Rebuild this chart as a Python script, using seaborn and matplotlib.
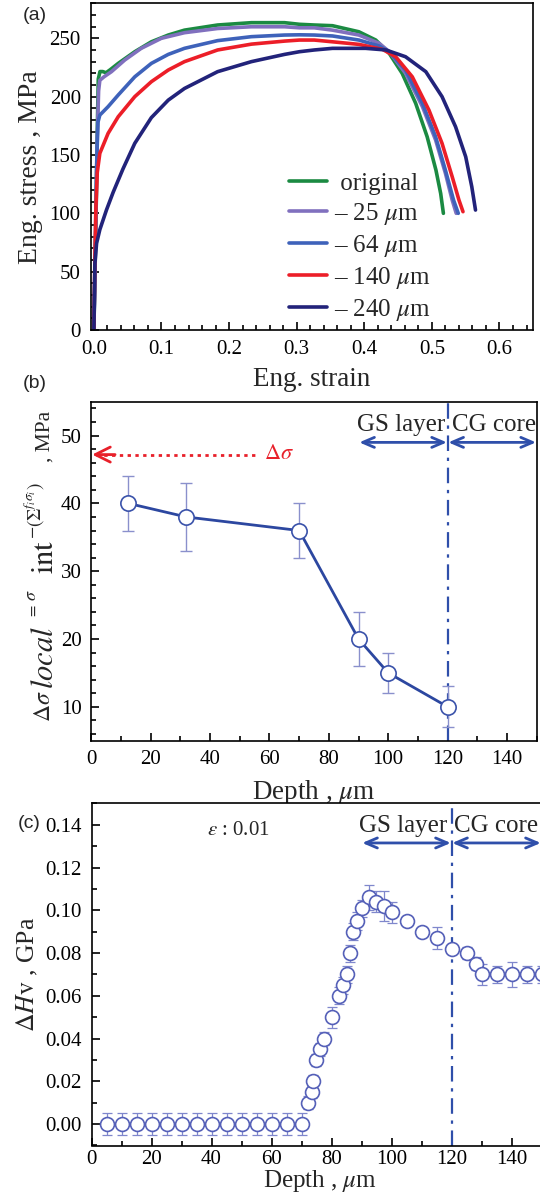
import matplotlib
matplotlib.use("Agg")
import matplotlib.pyplot as plt
import numpy as np
import pandas as pd
import seaborn as sns
from matplotlib.ticker import MultipleLocator, FixedLocator, FormatStrFormatter

# ---------------- (a) engineering stress-strain curves ----------------
strain_original = [0.0, 0.003, 0.005, 0.0065, 0.009, 0.013, 0.018, 0.024, 0.036, 0.0605, 0.085,
                   0.11, 0.134, 0.183, 0.233, 0.282, 0.304, 0.326, 0.353, 0.392, 0.417, 0.437,
                   0.456, 0.476, 0.493, 0.506, 0.513, 0.517]
stress_original = [0, 90, 170, 215, 221.5, 221.5, 220.5, 223, 228.5, 238.5, 247,
                   252.8, 257, 261.4, 263.4, 263.4, 262, 261.4, 260.8, 255.6, 248.5, 237,
                   220, 194.3, 165.6, 137, 117, 100]

strain_25 = [0.0, 0.003, 0.005, 0.007, 0.0088, 0.015, 0.026, 0.0457, 0.070, 0.0998, 0.134,
             0.183, 0.233, 0.282, 0.304, 0.326, 0.353, 0.392, 0.422, 0.437, 0.461, 0.486,
             0.5055, 0.520, 0.530, 0.536]
stress_25 = [0, 90, 165, 205, 214, 217, 221.4, 231.4, 241.4, 250, 254.8,
             258.4, 259.9, 259.9, 259, 259, 257, 252.8, 245.7, 238.5, 220, 191.4,
             162.8, 134.3, 111.4, 100]

strain_64 = [0.0, 0.002, 0.004, 0.006, 0.0088, 0.021, 0.036, 0.0605, 0.085, 0.11, 0.134,
             0.183, 0.233, 0.282, 0.304, 0.326, 0.353, 0.392, 0.422, 0.437, 0.461, 0.486,
             0.5055, 0.520, 0.532, 0.539]
stress_64 = [0, 70, 140, 178, 184.2, 191.4, 201.4, 217, 228.5, 236.2, 241.4,
             248, 251.4, 252.8, 253, 252.8, 252, 248.5, 243.4, 238.5, 222.8, 194.3,
             165.6, 137, 111.4, 100]

strain_140 = [0.0, 0.0015, 0.003, 0.005, 0.0088, 0.021, 0.036, 0.0605, 0.085, 0.11, 0.134,
              0.183, 0.233, 0.282, 0.304, 0.326, 0.353, 0.392, 0.427, 0.4465, 0.471, 0.4956,
              0.515, 0.530, 0.540, 0.546]
stress_140 = [0, 60, 105, 135, 151.4, 168.5, 182.8, 200, 212.8, 222.8, 230,
              240, 245, 247.6, 248.5, 248.5, 247, 244.8, 240.5, 234.2, 217, 188.5,
              160, 131.4, 111.4, 101.4]

strain_240 = [0.0, 0.0015, 0.004, 0.0088, 0.0187, 0.0285, 0.043, 0.0605, 0.085, 0.11, 0.134,
              0.183, 0.233, 0.282, 0.304, 0.326, 0.353, 0.402, 0.432, 0.461, 0.491, 0.515,
              0.535, 0.550, 0.559, 0.5645]
stress_240 = [0, 57, 74.3, 86, 103, 118, 138, 160, 182, 197, 207,
              221.4, 230, 236.2, 238.5, 240, 241.4, 241.4, 240, 234.2, 221.4, 200,
              174.2, 148.5, 122.8, 102.8]

sample_labels = [" original", "\u2013 25 $\\mu$m", "\u2013 64 $\\mu$m",
                 "\u2013 140 $\\mu$m", "\u2013 240 $\\mu$m"]
sample_colors = ["#1B8A42", "#8070BE", "#3E62BA", "#EC1E28", "#22237A"]

# ---------------- (b) local back stress vs depth ----------------
depth_b = [12.5, 32, 70, 90, 100, 120]
dsigma_local = [40, 38, 36, 20, 15, 10]
dsigma_err = [4, 5, 4, 4, 3, 3]
dsigma_total = 47.2

# ---------------- (c) hardness increment vs depth ----------------
depth_c = [5, 10, 15, 20, 25, 30, 35, 40, 45, 50, 55, 60, 65, 70,
           72.3, 73.4, 73.8, 74.9, 76, 77.5, 80, 82.5, 83.7, 85.2, 86.1, 87.2, 88.6, 90,
           92.4, 94.7, 97.6, 100, 105, 110, 115, 120, 125, 128, 130, 135, 140, 145, 150]
dhv = [0, 0, 0, 0, 0, 0, 0, 0, 0, 0, 0, 0, 0, 0,
       0.010, 0.015, 0.020, 0.030, 0.035, 0.040, 0.050, 0.060, 0.065, 0.070, 0.080, 0.090,
       0.095, 0.101, 0.106, 0.104, 0.102, 0.099, 0.095, 0.090, 0.087, 0.082, 0.080, 0.075,
       0.070, 0.070, 0.070, 0.070, 0.070]
dhv_err = [0.005] * 14 + [0.003, 0.003, 0.003, 0.003, 0.003, 0.003, 0.005, 0.004, 0.004,
                          0.004, 0.004, 0.004, 0.004, 0.004, 0.006, 0.005, 0.007, 0.005,
                          0.002, 0.002, 0.005, 0.002, 0.003, 0.003, 0.005, 0.004, 0.006,
                          0.004, 0.004]
depth_ticks_c = [0, 20, 40, 60, 80, 100, 120, 140]

# ---------------- style ----------------
sns.set_theme(style="ticks")
plt.rcParams["font.family"] = ["Liberation Serif", "DejaVu Serif"]
plt.rcParams["mathtext.fontset"] = "stix"
plt.rcParams["axes.linewidth"] = 1.2
plt.rcParams["axes.edgecolor"] = "black"

FIG_W, FIG_H = 540, 1193
fig = plt.figure(figsize=(FIG_W / 100, FIG_H / 100), dpi=100)


def box(l, t, r, b):
    return [l / FIG_W, 1 - b / FIG_H, (r - l) / FIG_W, (b - t) / FIG_H]


ax_a = fig.add_axes(box(90.5, 3.3, 533.3, 330))
ax_b = fig.add_axes(box(91.3, 401.7, 536.7, 740.7))
ax_c = fig.add_axes(box(91.5, 803.4, 91.5 + 480, 1145.5))

arrow_blue = "#2F4FAA"
LABEL_SIZE = 19.5


def style_axis(ax, xmaj, xmin, ymaj, ymin):
    ax.xaxis.set_major_locator(MultipleLocator(xmaj))
    ax.xaxis.set_minor_locator(MultipleLocator(xmin))
    ax.yaxis.set_major_locator(MultipleLocator(ymaj))
    ax.yaxis.set_minor_locator(MultipleLocator(ymin))
    ax.tick_params(which="both", direction="in", top=False, right=False,
                   width=1.2, colors="black", labelsize=15)
    ax.tick_params(which="major", length=6, pad=7)
    ax.tick_params(which="minor", length=3.5)
    for s in ax.spines.values():
        s.set_visible(True)
        s.set_color("black")
        s.set_linewidth(1.2)


# ---- (a) ----
frames = []
for lab, sx, sy in zip(sample_labels,
                       [strain_original, strain_25, strain_64, strain_140, strain_240],
                       [stress_original, stress_25, stress_64, stress_140, stress_240]):
    frames.append(pd.DataFrame({"strain": sx, "stress": sy, "sample": lab}))
df_a = pd.concat(frames, ignore_index=True)

sns.lineplot(data=df_a, x="strain", y="stress", hue="sample", hue_order=sample_labels,
             palette=sample_colors, sort=False, estimator=None, linewidth=2.6, ax=ax_a)
ax_a.set_xlim(-0.005, 0.65)
ax_a.set_ylim(0, 280)
style_axis(ax_a, 0.1, 0.02, 50, 10)
ax_a.set_xlabel("Eng. strain", fontsize=LABEL_SIZE, labelpad=6)
ax_a.set_ylabel("Eng. stress , MPa", fontsize=20, labelpad=5)
ax_a.legend(loc="upper left", bbox_to_anchor=(0.448, 0.482), frameon=False, fontsize=18,
            handlelength=1.52, handletextpad=0.3, labelspacing=0.24, borderpad=0,
            borderaxespad=0)

# ---- (b) ----
ax_b.errorbar(depth_b, dsigma_local, yerr=dsigma_err, fmt="none", ecolor="#8A90CC",
              elinewidth=1.0, capsize=4, capthick=1.0, zorder=2)
sns.lineplot(x=depth_b, y=dsigma_local, color="#2C47A0", linewidth=2.0, marker="o",
             markersize=11, markerfacecolor="white", markeredgecolor="#3A52AA",
             markeredgewidth=1.2, ax=ax_b, zorder=3)
ax_b.axvline(120, color=arrow_blue, linewidth=1.6, linestyle=(0, (7, 3, 1.5, 3)), zorder=1)
ax_b.plot([1.5, 55], [dsigma_total, dsigma_total], color="#E8202A", linestyle=(0, (1.2, 1.6)),
          linewidth=2.0)
ax_b.annotate("", xy=(0.3, dsigma_total), xytext=(8, dsigma_total),
              arrowprops=dict(arrowstyle="->,head_length=0.9,head_width=0.45",
                              color="#E8202A", lw=2.0, shrinkA=0, shrinkB=0))
ax_b.text(58, dsigma_total, r"$\Delta\sigma$", color="#E8202A", fontsize=16,
          ha="left", va="center")
for x0, x1 in [(90, 120), (120, 150)]:
    ax_b.annotate("", xy=(x0, 49.0), xytext=(x1, 49.0),
                  arrowprops=dict(arrowstyle="<->,head_length=0.7,head_width=0.3",
                                  color=arrow_blue, lw=2.0, shrinkA=0.5, shrinkB=0.5))
ax_b.text(104.5, 51.6, "GS layer", fontsize=18, ha="center", va="center")
ax_b.text(135.5, 51.6, "CG core", fontsize=18, ha="center", va="center")
ax_b.set_xlim(0, 150)
ax_b.set_ylim(5, 55)
style_axis(ax_b, 20, 10, 10, 2)
ax_b.set_xlabel(r"Depth , $\mu$m", fontsize=LABEL_SIZE, labelpad=6)

# y-axis title of (b), set piece by piece: (text, size, start y px, baseline x px)
ylabel_b_parts = [
    (r"$\Delta\sigma$", 17, 722, 50),
    (r"$local$", 22, 689, 53),
    (r"$=$", 12, 619, 37),
    (r"$\sigma$", 13, 601, 36),
    (r"$\mathrm{int}$", 22, 574, 53),
    (r"$-$", 13, 539, 37),
    (r"$(\Sigma^{f_i\sigma_i})$", 14, 527, 41),
    (", MPa", 15.5, 462, 50),
]
for txt, size, py, px in ylabel_b_parts:
    fig.text(px / FIG_W, 1 - py / FIG_H, txt, fontsize=size, rotation=90,
             rotation_mode="anchor", ha="left", va="baseline")

# ---- (c) ----
ax_c.errorbar(depth_c, dhv, yerr=dhv_err, fmt="none", ecolor="#7F87CC", elinewidth=0.9,
              capsize=3.5, capthick=0.9, zorder=2)
sns.scatterplot(x=depth_c, y=dhv, marker="o", s=100, facecolor="white",
                edgecolor="#5560B8", linewidth=1.2, ax=ax_c, zorder=3)
ax_c.axvline(120, color=arrow_blue, linewidth=1.6, linestyle=(0, (7, 3, 1.5, 3)), zorder=1)
for x0, x1 in [(90, 120), (120, 150)]:
    ax_c.annotate("", xy=(x0, 0.1315), xytext=(x1, 0.1315),
                  arrowprops=dict(arrowstyle="<->,head_length=0.7,head_width=0.3",
                                  color=arrow_blue, lw=2.0, shrinkA=0.5, shrinkB=0.5))
ax_c.text(104, 0.1395, "GS layer", fontsize=18, ha="center", va="center")
ax_c.text(135, 0.1395, "CG core", fontsize=18, ha="center", va="center")
ax_c.text(49, 0.1375, r"$\varepsilon$ : 0.01", fontsize=15, ha="center", va="center")
ax_c.set_xlim(0, 160)
ax_c.set_ylim(-0.01, 0.15)
style_axis(ax_c, 20, 10, 0.02, 0.01)
ax_c.xaxis.set_major_locator(FixedLocator(depth_ticks_c))
ax_c.tick_params(axis="x", which="major", pad=3)
ax_c.yaxis.set_major_formatter(FormatStrFormatter("%.2f"))
ax_c.set_xlabel(r"Depth , $\mu$m", fontsize=18)
ax_c.xaxis.set_label_coords((320 - 91.5) / 480, -(1168.5 - 1145.5) / 342.1)
ax_c.set_ylabel(r"$\Delta H\mathrm{v}$ , GPa", fontsize=18.5, labelpad=4)

# panel letters
for lab, (px, py) in zip(["(a)", "(b)", "(c)"], [(35, 15.5), (35, 384), (29, 824)]):
    fig.text(px / FIG_W, 1 - py / FIG_H, lab, fontsize=14, family="Liberation Sans",
             ha="center", va="center")

fig.savefig("out.png", dpi=100)
